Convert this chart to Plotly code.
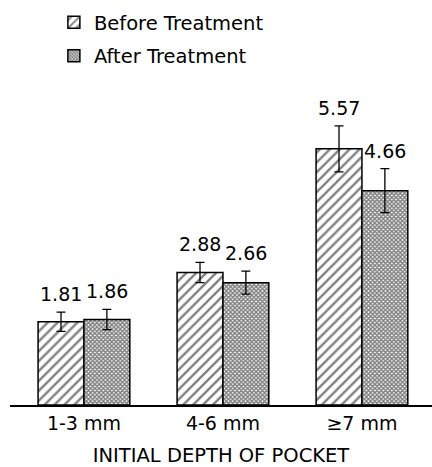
import plotly.graph_objects as go

categories = ["1-3 mm", "4-6 mm", "≥7 mm"]
before = [1.81, 2.88, 5.57]
after = [1.86, 2.66, 4.66]
before_err = [0.21, 0.22, 0.50]
after_err = [0.22, 0.25, 0.48]
series_names = ["Before Treatment", "After Treatment"]
x_title = "INITIAL DEPTH OF POCKET"

FONT = "DejaVu Sans"

fig = go.Figure()
fig.add_trace(go.Bar(
    name=series_names[0], x=categories, y=before, legendgroup="b",
    marker=dict(color="white", line=dict(color="black", width=1.5),
                pattern=dict(shape="/", size=7, solidity=0.33, fgcolor="black", bgcolor="white")),
    error_y=dict(type="data", array=before_err, color="black", thickness=1.3, width=4.5),
))
fig.add_trace(go.Bar(
    name=series_names[1], x=categories, y=after, legendgroup="a",
    marker=dict(color="white", line=dict(color="black", width=1.5),
                pattern=dict(shape="x", size=3, solidity=0.7, fgcolor="black", bgcolor="white")),
    error_y=dict(type="data", array=after_err, color="black", thickness=1.3, width=4.5),
))

for i in range(len(categories)):
    for vals, errs, off in ((before, before_err, -0.165), (after, after_err, 0.165)):
        fig.add_annotation(x=i + off, y=vals[i] + errs[i], xref="x", yref="y",
                           text=f"{vals[i]:.2f}", showarrow=False, yanchor="bottom", yshift=5,
                           font=dict(family=FONT, size=19, color="black"))

fig.update_layout(
    width=432, height=467,
    margin=dict(l=10, r=0, t=83, b=62),
    paper_bgcolor="white", plot_bgcolor="white",
    barmode="group", bargap=0.34, bargroupgap=0,
    font=dict(family=FONT, size=18, color="black"),
    legend=dict(x=0.104, y=1.248, xanchor="left", yanchor="top",
                font=dict(size=19.5), bgcolor="rgba(0,0,0,0)", tracegroupgap=5,
                traceorder="grouped"),
    xaxis=dict(range=[-0.532, 2.504], showline=True, linecolor="black", linewidth=1.5,
               ticks="", showgrid=False, tickfont=dict(size=19),
               title=dict(text=x_title, font=dict(size=19.5), standoff=19)),
    yaxis=dict(range=[0, 7], visible=False),
)

fig.write_html("out.html")
